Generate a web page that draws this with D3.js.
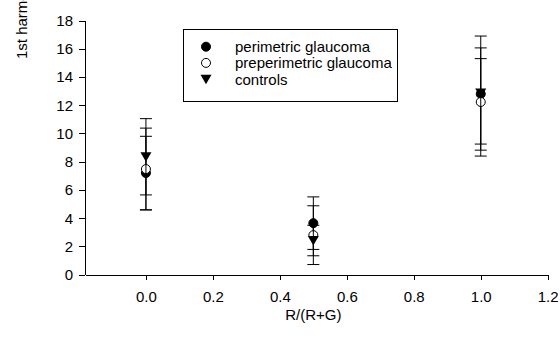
<!DOCTYPE html>
<html>
<head>
<meta charset="utf-8">
<script src="https://cdn.jsdelivr.net/npm/d3@7"></script>
<style>
  html, body { margin: 0; padding: 0; background: #fff; }
  svg { display: block; }
  text { font-family: Arial, "Liberation Sans", sans-serif; fill: #000; }
</style>
</head>
<body>
<svg id="chart" width="560" height="347"></svg>
<script>
// Stimulus chromaticity R/(R+G)
const ratios = [0, 0.5, 1.0];

// Group means of the 1st harmonic amplitude with lower / upper error extents
const perimetricMean = [7.2, 3.65, 12.8];
const perimetricErrLow = [2.6, 1.86, 3.55];
const perimetricErrHigh = [2.6, 1.86, 2.5];
const preperimetricMean = [7.48, 2.8, 12.23];
const preperimetricErrLow = [2.9, 2.08, 3.83];
const preperimetricErrHigh = [2.9, 2.08, 3.83];
const controlsMean = [8.35, 2.42, 12.86];
const controlsErrLow = [2.7, 1.08, 4.04];
const controlsErrHigh = [2.7, 1.08, 4.04];

const seriesNames = ["perimetric glaucoma", "preperimetric glaucoma", "controls"];
const xTicks = [0, 0.2, 0.4, 0.6, 0.8, 1.0, 1.2];
const yTicks = [0, 2, 4, 6, 8, 10, 12, 14, 16, 18];

const svg = d3.select("#chart");
const FONT = 15;

const x = d3.scaleLinear().domain([-0.182, 1.2]).range([85, 547.7]);
const y = d3.scaleLinear().domain([0, 18]).range([274.7, 20.5]);

// Axes
const yAxis = svg.append("g")
  .attr("transform", "translate(85,0)")
  .call(d3.axisLeft(y).tickValues(yTicks).tickSize(6).tickSizeOuter(0).tickPadding(6).tickFormat(d3.format("d")));
const xAxis = svg.append("g")
  .attr("transform", `translate(0,${y(0)})`)
  .call(d3.axisBottom(x).tickValues(xTicks).tickSize(5).tickSizeOuter(0).tickPadding(12).tickFormat(d3.format(".1f")));
[xAxis, yAxis].forEach(g => {
  g.selectAll("path, line").attr("stroke", "#000").attr("stroke-width", 1).attr("shape-rendering", "crispEdges");
  g.selectAll("text").attr("font-size", FONT).attr("font-family", "Arial, 'Liberation Sans', sans-serif").attr("fill", "#000");
});

// Axis titles
svg.append("text")
  .attr("transform", "translate(27,59) rotate(-90)")
  .attr("text-anchor", "start")
  .attr("font-size", FONT)
  .text("1st harmonic amplitude");
svg.append("text")
  .attr("x", x(0.5))
  .attr("y", 320)
  .attr("text-anchor", "middle")
  .attr("font-size", FONT)
  .text("R/(R+G)");

// Marker shapes
const circleR = 4.5;
function drawMarker(g, kind, cx, cy) {
  if (kind === 2) {
    g.append("path")
      .attr("d", `M${cx - 5.5},${cy - 4.5}L${cx + 5.5},${cy - 4.5}L${cx},${cy + 5}Z`)
      .attr("fill", "#000");
  } else {
    g.append("circle")
      .attr("cx", cx).attr("cy", cy).attr("r", circleR)
      .attr("fill", kind === 0 ? "#000" : "#fff")
      .attr("stroke", "#000").attr("stroke-width", 1);
  }
}

const series = [
  { mean: perimetricMean, lo: perimetricErrLow, hi: perimetricErrHigh },
  { mean: preperimetricMean, lo: preperimetricErrLow, hi: preperimetricErrHigh },
  { mean: controlsMean, lo: controlsErrLow, hi: controlsErrHigh }
];

// Each group: error bars first, then its symbols
const plot = svg.append("g");
series.forEach((s, k) => {
  const g = plot.append("g");
  ratios.forEach((r, i) => {
    const cx = x(r);
    const top = y(s.mean[i] + s.hi[i]);
    const bot = y(s.mean[i] - s.lo[i]);
    g.append("line").attr("x1", cx).attr("x2", cx).attr("y1", top).attr("y2", bot)
      .attr("stroke", "#000").attr("stroke-width", 1);
    [top, bot].forEach(v => {
      g.append("line").attr("x1", cx - 6).attr("x2", cx + 6).attr("y1", v).attr("y2", v)
        .attr("stroke", "#000").attr("stroke-width", 1);
    });
  });
  ratios.forEach((r, i) => drawMarker(g, k, x(r), y(s.mean[i])));
});

// Legend
const legend = svg.append("g");
legend.append("rect")
  .attr("x", 183.5).attr("y", 29.5).attr("width", 214).attr("height", 72)
  .attr("fill", "#fff").attr("stroke", "#000").attr("stroke-width", 1);
const rowY = [46.7, 62.9, 79.3];
seriesNames.forEach((name, k) => {
  drawMarker(legend, k, 206, rowY[k]);
  legend.append("text")
    .attr("x", 235).attr("y", rowY[k] + 5.3)
    .attr("font-size", FONT)
    .text(name);
});
</script>
</body>
</html>
